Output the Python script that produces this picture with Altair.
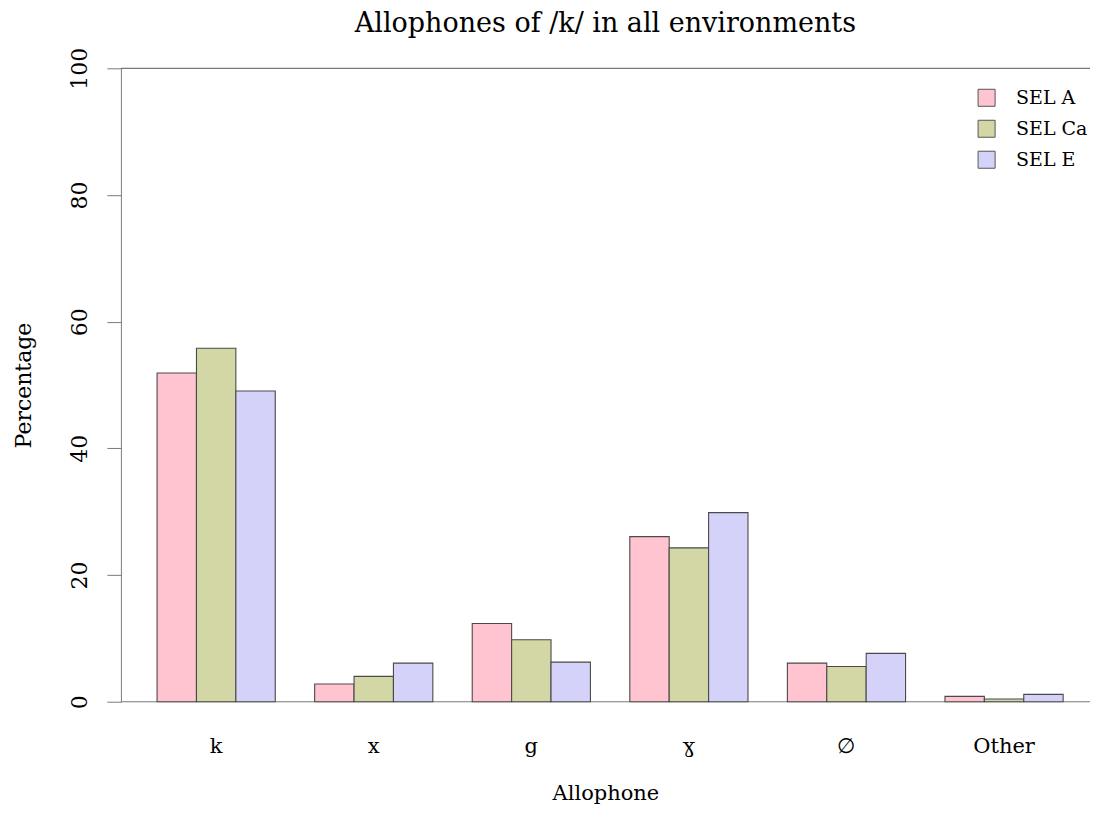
import altair as alt
import pandas as pd

# ---- data ----
allophones = ["k", "x", "g", "ɣ", "∅", "Other"]
groups = ["SEL A", "SEL Ca", "SEL E"]
sel_a = [51.9, 2.8, 12.35, 26.07, 6.1, 0.84]
sel_ca = [55.8, 4.0, 9.78, 24.29, 5.57, 0.42]
sel_e = [49.05, 6.1, 6.26, 29.86, 7.63, 1.16]
colors = ["#FFC4CF", "#D3D6A5", "#D5D2FA"]
y_ticks = [0, 20, 40, 60, 80, 100]

rows = []
for g, vals in zip(groups, [sel_a, sel_ca, sel_e]):
    for a, v in zip(allophones, vals):
        rows.append({"Allophone": a, "Group": g, "Percentage": v})
df = pd.DataFrame(rows)

SERIF = "DejaVu Serif"
GRAY = "#7a7a7a"

yscale = alt.Scale(domain=[0, 100], nice=False, zero=True)

bars = alt.Chart(df).mark_bar(stroke="#4a4a4a", strokeWidth=1.1).encode(
    x=alt.X("Allophone:N", sort=allophones,
            scale=alt.Scale(paddingInner=0.25, paddingOuter=0.2, align=0.574),
            axis=alt.Axis(title="Allophone", labelAngle=0, ticks=False, domain=False,
                          labelFont=SERIF, labelFontSize=21, labelColor="black",
                          labelPadding=34, titleFont=SERIF, titleFontSize=21,
                          titleFontWeight="normal", titleColor="black", titlePadding=26)),
    xOffset=alt.XOffset("Group:N", sort=groups,
                        scale=alt.Scale(paddingInner=0, paddingOuter=0)),
    y=alt.Y("Percentage:Q", scale=yscale,
            axis=alt.Axis(title="Percentage", values=y_ticks, grid=False,
                          tickSize=14, tickColor=GRAY, domainColor=GRAY,
                          labelAngle=270, labelAlign="center", labelBaseline="alphabetic",
                          labelPadding=20, labelFont=SERIF, labelFontSize=22,
                          labelColor="black", titleFont=SERIF, titleFontSize=22,
                          titleFontWeight="normal", titleColor="black", titlePadding=33)),
    color=alt.Color("Group:N", sort=groups,
                    scale=alt.Scale(domain=groups, range=colors),
                    legend=alt.Legend(title=None, orient="none", legendX=857, legendY=20,
                                      symbolType="square", symbolSize=290,
                                      symbolStrokeColor="#555555", symbolStrokeWidth=1,
                                      labelFont=SERIF, labelFontSize=19, labelColor="black",
                                      labelOffset=20, rowPadding=8, padding=0)),
)

lines = alt.Chart(pd.DataFrame({"v": [0, 100]})).mark_rule(color=GRAY, strokeWidth=1.2).encode(
    y=alt.Y("v:Q", scale=yscale)
)

chart = alt.layer(lines, bars).properties(
    width=970, height=634,
    title=alt.TitleParams("Allophones of /k/ in all environments", font=SERIF,
                          fontSize=27, fontWeight="normal", color="black", offset=9),
    autosize=alt.AutoSizeParams(type="none"),
    padding={"left": 113, "top": 60, "right": 0, "bottom": 106},
).configure_view(stroke=None)

chart.save("out.html", embed_options={"renderer": "svg", "actions": False})
